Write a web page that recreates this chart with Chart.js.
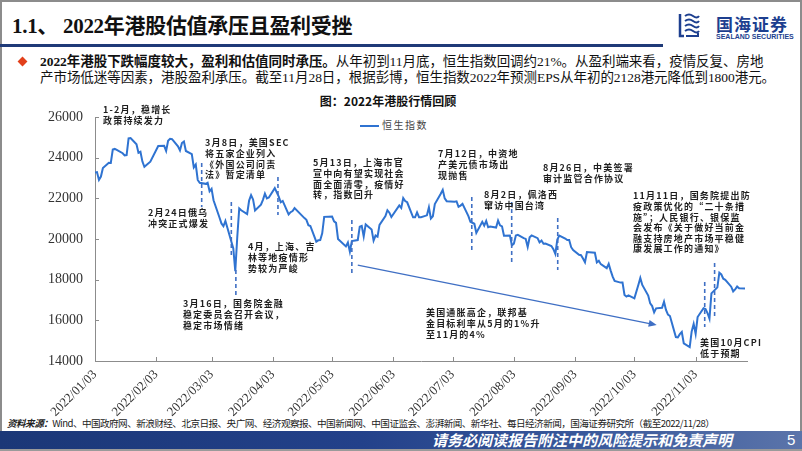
<!DOCTYPE html>
<html><head><meta charset="utf-8">
<script src="https://cdn.jsdelivr.net/npm/chart.js@4.4.1/dist/chart.umd.min.js"></script>
<style>
html,body{margin:0;padding:0;background:#fff;}
#slide{position:relative;width:802px;height:451px;overflow:hidden;background:#fff;font-family:"Liberation Serif","Noto Sans CJK SC",serif;}
#frame{position:absolute;left:0;top:0;width:798px;height:449px;border:2px solid #8c8c8c;border-bottom:none;}
#h1{position:absolute;left:12px;top:9px;font-size:21px;font-weight:bold;color:#111;white-space:nowrap;letter-spacing:-0.3px;}
#hbar{position:absolute;left:0;top:44px;width:663px;height:3px;background:#1f3a78;}
#logo{position:absolute;left:678px;top:12px;}
#logoT{position:absolute;left:716px;top:11px;font-family:"Noto Sans CJK SC";font-weight:bold;font-size:17px;color:#1d3f8f;letter-spacing:1px;white-space:nowrap;}
#logoS{position:absolute;left:716px;top:33px;font-family:"Liberation Sans",Arial;font-weight:bold;font-size:7px;color:#1d3f8f;white-space:nowrap;}
#dia{position:absolute;left:19px;top:58px;width:7px;height:7px;background:#e2401b;transform:rotate(45deg);}
#para{position:absolute;left:40px;top:54px;font-size:13.5px;line-height:16px;color:#111;white-space:nowrap;letter-spacing:-0.05px;}
#ctitle{position:absolute;left:0;width:776px;text-align:center;top:92px;font-family:"Noto Sans CJK SC";font-weight:bold;font-size:12px;color:#111;}
#legend{position:absolute;left:360px;top:117px;font-family:"Noto Sans CJK SC";font-size:10px;color:#444;white-space:nowrap;letter-spacing:1.5px;}
#legend i{display:inline-block;width:19px;height:0;border-top:2px solid #2f73d1;vertical-align:middle;margin-right:3px;}
#src{position:absolute;left:7px;top:416px;font-family:"Noto Sans CJK SC";font-size:9.6px;color:#222;white-space:nowrap;letter-spacing:-0.55px;}
#src b{font-style:italic;}
#fbar{position:absolute;left:0;top:431px;width:802px;height:18px;background:linear-gradient(to right,#1b3777,#23418a 45%,#3b5a9c 75%,#5b74aa);}
#fline{position:absolute;left:0;top:449px;width:802px;height:2px;background:#9a9a9a;}
#ftxt{position:absolute;left:432px;top:430px;font-family:"Noto Sans CJK SC";font-style:italic;font-weight:bold;font-size:15px;line-height:20px;color:#fff;white-space:nowrap;}
#fnum{position:absolute;left:787px;top:430px;font-family:"Liberation Sans";font-size:15px;line-height:20px;color:#fff;}
canvas{position:absolute;left:0;top:0;}
</style></head>
<body>
<div id="slide">
<div id="frame"></div>
<div id="h1">1.1、 2022年港股估值承压且盈利受挫</div>
<div id="hbar"></div>
<svg id="logo" width="22" height="26" viewBox="0 0 22 26">
<path d="M2 2 L2 24 L6 24" fill="none" stroke="#1d3f8f" stroke-width="2.5"/>
<path d="M7 4 Q11 1 15 4 T21 4" fill="none" stroke="#1d3f8f" stroke-width="2"/>
<path d="M7 9 Q11 6 15 9 T21 9" fill="none" stroke="#1d3f8f" stroke-width="2"/>
<path d="M7 14 Q11 11 15 14 T21 14" fill="none" stroke="#1d3f8f" stroke-width="2"/>
<path d="M7 19 Q11 16 15 19 T21 19" fill="none" stroke="#1d3f8f" stroke-width="2"/>
<path d="M8 24 L20 24 L20 21" fill="none" stroke="#1d3f8f" stroke-width="2"/>
</svg>
<div id="logoT">国海证券</div>
<div id="logoS">SEALAND SECURITIES</div>
<div id="dia"></div>
<div id="para"><b>2022年港股下跌幅度较大，盈利和估值同时承压。</b>从年初到11月底，恒生指数回调约21%。从盈利端来看，疫情反复、房地<br>产市场低迷等因素，港股盈利承压。截至11月28日，根据彭博，恒生指数2022年预测EPS从年初的2128港元降低到1800港元。</div>
<div id="ctitle">图：2022年港股行情回顾</div>
<div id="legend"><i></i>恒生指数</div>
<div id="src"><b>资料来源：</b>Wind、中国政府网、新浪财经、北京日报、央广网、经济观察报、中国新闻网、中国证监会、澎湃新闻、新华社、每日经济新闻，国海证券研究所（截至2022/11/28）</div>
<div id="fbar"></div>
<div id="fline"></div>
<div id="ftxt">请务必阅读报告附注中的风险提示和免责声明</div>
<div id="fnum">5</div>
<canvas id="c" width="802" height="451"></canvas>
</div>
<script>
// ---- data ----
const seriesName = '恒生指数';
const tickLabels = ['2022/01/03','2022/02/03','2022/03/03','2022/04/03','2022/05/03','2022/06/03','2022/07/03','2022/08/03','2022/09/03','2022/10/03','2022/11/03'];
const dates = [
'01/03','01/04','01/05','01/06','01/07','01/10','01/11','01/12','01/13','01/14','01/17','01/18','01/19','01/20','01/21','01/24','01/25','01/26','01/27','01/28','01/31',
'02/04','02/07','02/08','02/09','02/10','02/11','02/14','02/15','02/16','02/17','02/18','02/21','02/22','02/23','02/24','02/25','02/28',
'03/01','03/02','03/03','03/04','03/07','03/08','03/09','03/10','03/11','03/14','03/15','03/16','03/17','03/18','03/21','03/22','03/23','03/24','03/25','03/28','03/29','03/30','03/31',
'04/01','04/04','04/06','04/07','04/08','04/11','04/12','04/13','04/14','04/19','04/20','04/21','04/22','04/25','04/26','04/27','04/28','04/29',
'05/03','05/04','05/05','05/06','05/10','05/11','05/12','05/13','05/16','05/17','05/18','05/19','05/20','05/23','05/24','05/25','05/26','05/27','05/30','05/31',
'06/01','06/02','06/06','06/07','06/08','06/09','06/10','06/13','06/14','06/15','06/16','06/17','06/20','06/21','06/22','06/23','06/24','06/27','06/28','06/29','06/30',
'07/04','07/05','07/06','07/07','07/08','07/11','07/12','07/13','07/14','07/15','07/18','07/19','07/20','07/21','07/22','07/25','07/26','07/27','07/28','07/29',
'08/01','08/02','08/03','08/04','08/05','08/08','08/09','08/10','08/11','08/12','08/15','08/16','08/17','08/18','08/19','08/22','08/23','08/24','08/25','08/26','08/29','08/30','08/31',
'09/01','09/02','09/05','09/06','09/07','09/08','09/09','09/13','09/14','09/15','09/16','09/19','09/20','09/21','09/22','09/23','09/26','09/27','09/28','09/29','09/30',
'10/03','10/05','10/06','10/07','10/10','10/11','10/12','10/13','10/14','10/17','10/18','10/19','10/20','10/21','10/24','10/25','10/26','10/27','10/28','10/31',
'11/01','11/02','11/03','11/04','11/07','11/08','11/09','11/10','11/11','11/14','11/15','11/16','11/17','11/18','11/21','11/22','11/23','11/24','11/25','11/28'];
const hsi = [
23275,23290,22907,23073,23493,23747,23739,24402,24430,24383,24218,24113,24128,24952,24966,24656,24244,24290,23807,23550,23802,
24573,24580,24329,24830,24924,24907,24557,24356,24719,24793,24328,24170,23520,23660,22902,22767,22713,
22762,22344,22467,21905,21058,20766,20628,20890,20554,19532,18415,20088,21501,21412,21221,21889,22154,21946,21405,21685,21928,22232,21997,
22040,22502,22081,21809,21872,21208,21319,21374,21518,21028,20945,20682,20639,19869,19935,19946,20276,21089,
21102,20870,20793,20002,19634,19825,19380,19899,19950,20603,20644,20121,20717,20470,19922,20171,20116,20697,21124,21415,
21295,21082,21654,21532,22015,21869,21806,21068,21068,21308,21075,21075,21164,21560,21008,21120,21719,22230,22419,21997,21860,
21830,21853,21587,21644,21726,21124,20845,20798,20751,20298,20846,20661,20890,20575,20609,20563,20906,20670,20623,20157,
20166,19689,19767,20174,20202,20046,20003,19611,20082,20176,20041,19831,19922,19764,19773,19657,19503,19269,19968,20170,20023,19949,19954,
19597,19452,19225,19203,19044,18855,19362,19327,18847,18930,18762,18566,18781,18445,18148,17933,17855,17860,17251,17166,17223,
17080,17740,18088,17740,17217,16832,16701,16389,16588,16613,16915,16511,16280,16211,15181,15166,15318,15428,14863,14687,
15455,15827,15339,16161,16596,16557,16359,16081,17326,17620,18343,18256,18046,17993,17656,17424,17524,17661,17574,17560];
const yMin = 14000, yMax = 26000, yStep = 2000;

// annotations: [dayFromJan3, valueTop, valueBottom]
const eventLines = [[54,23740,21570],[69,21820,19060],[71.3,18470,17100],[92.6,23050,21180],[130,20930,18330],[190.7,22060,19460],[210.9,21820,18720],[234.2,21030,18470],[308.6,17880,15670],[313.6,18820,16160]];
const trendArrow = [[133,18720],[284.3,15770]];
const eventNotes = [
 [4.05,26344,['1-2月，稳增长','政策持续发力']],
 [26.8,21277,['2月24日俄乌','冲突正式爆发']],
 [55.7,24721,['3月8日，美国SEC','将五家企业列入','《外国公司问责','法》暂定清单']],
 [77.4,19604,['4月，上海、吉','林等地疫情形','势较为严峻']],
 [44.5,16800,['3月16日，国务院金融','稳定委员会召开会议，','稳定市场情绪']],
 [110.3,23737,['5月13日，上海市官','宣中向有望实现社会','面全面清零，疫情好','转，指数回升']],
 [173.6,24180,['7月12日，中资地','产美元债市场出','现抛售']],
 [196.9,22163,['8月2日，佩洛西','窜访中国台湾']],
 [226.7,23491,['8月26日，中美签署','审计监管合作协议']],
 [272.3,22113,['11月11日，国务院提出防','疫政策优化的“二十条措','施”；人民银行、银保监','会发布《关于做好当前金','融支持房地产市场平稳健','康发展工作的通知》']],
 [167.5,16357,['美国通胀高企，联邦基','金目标利率从5月的1%升','至11月的4%']],
 [306.2,14883,['美国10月CPI','低于预期']]
];

// ---- helpers ----
const base = Date.UTC(2022,0,3);
function dayOf(s){const p=s.split('/').map(Number); if(p.length===3) return (Date.UTC(p[0],p[1]-1,p[2])-base)/86400000; return (Date.UTC(2022,p[0]-1,p[1])-base)/86400000;}
const tickDays = tickLabels.map(dayOf);
const points = dates.map((d,i)=>({x:dayOf(d),y:hsi[i]}));

const annot = {
 id:'annot',
 afterDatasetsDraw(chart){
  const ctx=chart.ctx, xs=chart.scales.x, ys=chart.scales.y, ca=chart.chartArea;
  ctx.save();
  ctx.strokeStyle='#8c8c8c'; ctx.lineWidth=1;
  tickDays.forEach(d=>{const x=Math.round(xs.getPixelForValue(d))+0.5; ctx.beginPath(); ctx.moveTo(x,ca.bottom); ctx.lineTo(x,ca.bottom-4); ctx.stroke();});
  for(let v=yMin; v<=yMax; v+=yStep){const y=Math.round(ys.getPixelForValue(v))+0.5; ctx.beginPath(); ctx.moveTo(ca.left,y); ctx.lineTo(ca.left+4,y); ctx.stroke();}
  ctx.strokeStyle='#3f6fc4'; ctx.lineWidth=1.6; ctx.setLineDash([4,3]);
  eventLines.forEach(([d,v1,v2])=>{const x=xs.getPixelForValue(d); ctx.beginPath(); ctx.moveTo(x,ys.getPixelForValue(v1)); ctx.lineTo(x,ys.getPixelForValue(v2)); ctx.stroke();});
  ctx.setLineDash([]);
  const [a,b]=trendArrow; const x1=xs.getPixelForValue(a[0]),y1=ys.getPixelForValue(a[1]),x2=xs.getPixelForValue(b[0]),y2=ys.getPixelForValue(b[1]);
  ctx.strokeStyle='#3f6fc4'; ctx.fillStyle='#3f6fc4'; ctx.lineWidth=1.3;
  const ang=Math.atan2(y2-y1,x2-x1);
  ctx.beginPath(); ctx.moveTo(x1,y1); ctx.lineTo(x2-6*Math.cos(ang),y2-6*Math.sin(ang)); ctx.stroke();
  ctx.beginPath(); ctx.moveTo(x2,y2); ctx.lineTo(x2-8*Math.cos(ang)+3.5*Math.sin(ang),y2-8*Math.sin(ang)-3.5*Math.cos(ang)); ctx.lineTo(x2-8*Math.cos(ang)-3.5*Math.sin(ang),y2-8*Math.sin(ang)+3.5*Math.cos(ang)); ctx.closePath(); ctx.fill();
  ctx.fillStyle='#1e1e1e'; ctx.font='bold 9px "Noto Sans CJK SC"'; ctx.textAlign='left'; ctx.textBaseline='middle';
  try{ctx.letterSpacing='1.2px';}catch(e){}
  eventNotes.forEach(([d,v,lines])=>{const x=xs.getPixelForValue(d), y=ys.getPixelForValue(v); lines.forEach((t,i)=>ctx.fillText(t,x,y+i*10.6));});
  ctx.restore();
 }
};

new Chart(document.getElementById('c'),{
 type:'line',
 data:{datasets:[{label:seriesName,data:points,borderColor:'#2f73d1',borderWidth:2,pointRadius:0,tension:0,fill:false}]},
 options:{
  responsive:false,animation:false,devicePixelRatio:1,
  layout:{padding:{left:0,top:117,right:55,bottom:30}},
  plugins:{legend:{display:false},tooltip:{enabled:false}},
  scales:{
   x:{type:'linear',min:0,max:330,
      afterBuildTicks(s){s.ticks=tickDays.map(v=>({value:v}));},
      afterFit(s){s.height=60;},
      grid:{display:true,drawOnChartArea:false,drawTicks:false},
      border:{color:'#8c8c8c',width:1},
      ticks:{autoSkip:false,minRotation:45,maxRotation:45,padding:6,color:'#333',font:{family:'"Liberation Serif"',size:13},
        callback(v){const i=tickDays.indexOf(v);return i>=0?tickLabels[i]:'';}}},
   y:{min:yMin,max:yMax,
      afterFit(s){s.width=95;},
      grid:{display:true,drawOnChartArea:false,drawTicks:false},
      border:{color:'#8c8c8c',width:1},
      ticks:{stepSize:yStep,padding:12,color:'#333',font:{family:'"Liberation Serif"',size:14},
        callback(v){return String(v);}}}
  }
 },
 plugins:[annot]
});
</script>
</body></html>
